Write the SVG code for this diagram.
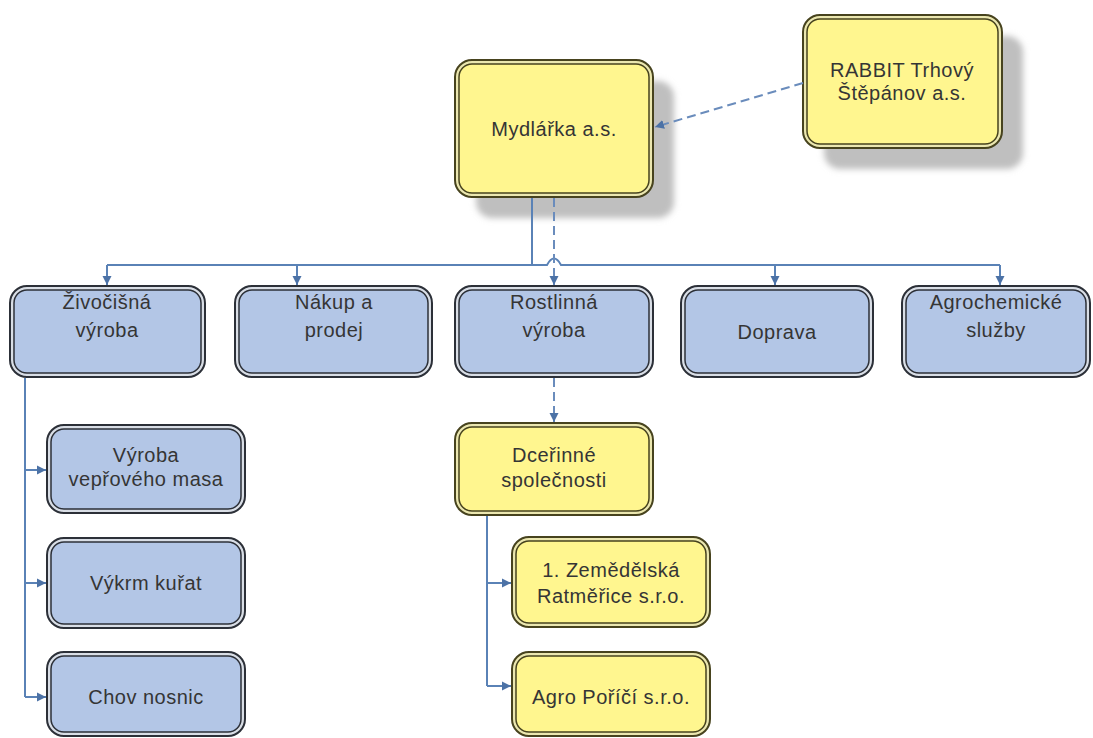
<svg xmlns="http://www.w3.org/2000/svg" width="1093" height="738" viewBox="0 0 1093 738">
<style>
.bo{fill:#d9dee6;stroke:#2c3038;stroke-width:2}
.bi{fill:#b3c6e6;stroke:#2c3038;stroke-width:1.5}
.yo{fill:#ebe7b0;stroke:#47431e;stroke-width:2}
.yi{fill:#fff68f;stroke:#47431e;stroke-width:1.5}
.sh{fill:#bfbfbf;filter:url(#blur)}
text{font-family:"Liberation Sans",Arial,sans-serif;font-size:20px;fill:#353535;text-anchor:middle;letter-spacing:0.5px}
.c{fill:none;stroke:#5a82b6;stroke-width:2}
.d{fill:none;stroke:#6a8cbc;stroke-width:2;stroke-dasharray:9 5}
</style>
<defs>
<filter id="blur" x="-10%" y="-10%" width="120%" height="120%"><feGaussianBlur stdDeviation="3"/></filter>
<marker id="ar" markerUnits="userSpaceOnUse" markerWidth="10" markerHeight="10" refX="9" refY="5" orient="auto"><path d="M0,0.5 L9,5 L0,9.5 z" fill="#4c72a6"/></marker>
</defs>
<rect width="1093" height="738" fill="#ffffff"/>
<g id="mydlarka">
<rect class="sh" x="476" y="81" width="198" height="137" rx="16"/>
<rect class="yo" x="455" y="60" width="198" height="137" rx="17"/>
<rect class="yi" x="459" y="64" width="190" height="129" rx="13"/>
<text x="554" y="136">Mydlářka a.s.</text>
</g>
<g id="rabbit">
<rect class="sh" x="824" y="36" width="199" height="133" rx="16"/>
<rect class="yo" x="803" y="15" width="199" height="133" rx="17"/>
<rect class="yi" x="807" y="19" width="191" height="125" rx="13"/>
<text x="902" y="77">RABBIT Trhový</text>
<text x="902" y="100">Štěpánov a.s.</text>
</g>
<g id="zivocisna">
<rect class="bo" x="10" y="286" width="195" height="91" rx="17"/>
<rect class="bi" x="14" y="290" width="187" height="83" rx="13"/>
<text x="107" y="309">Živočišná</text>
<text x="107" y="337">výroba</text>
</g>
<g id="nakup">
<rect class="bo" x="235" y="286" width="197" height="91" rx="17"/>
<rect class="bi" x="239" y="290" width="189" height="83" rx="13"/>
<text x="334" y="309">Nákup a</text>
<text x="334" y="337">prodej</text>
</g>
<g id="rostlinna">
<rect class="bo" x="455" y="286" width="198" height="91" rx="17"/>
<rect class="bi" x="459" y="290" width="190" height="83" rx="13"/>
<text x="554" y="309">Rostlinná</text>
<text x="554" y="337">výroba</text>
</g>
<g id="doprava">
<rect class="bo" x="681" y="286" width="192" height="91" rx="17"/>
<rect class="bi" x="685" y="290" width="184" height="83" rx="13"/>
<text x="777" y="339">Doprava</text>
</g>
<g id="agrochemicke">
<rect class="bo" x="902" y="286" width="188" height="91" rx="17"/>
<rect class="bi" x="906" y="290" width="180" height="83" rx="13"/>
<text x="996" y="309">Agrochemické</text>
<text x="996" y="337">služby</text>
</g>
<g id="vyroba-masa">
<rect class="bo" x="47" y="425" width="198" height="88" rx="17"/>
<rect class="bi" x="51" y="429" width="190" height="80" rx="13"/>
<text x="146" y="462">Výroba</text>
<text x="146" y="486">vepřového masa</text>
</g>
<g id="vykrm">
<rect class="bo" x="47" y="538" width="198" height="90" rx="17"/>
<rect class="bi" x="51" y="542" width="190" height="82" rx="13"/>
<text x="146" y="590">Výkrm kuřat</text>
</g>
<g id="chov">
<rect class="bo" x="47" y="652" width="198" height="84" rx="17"/>
<rect class="bi" x="51" y="656" width="190" height="76" rx="13"/>
<text x="146" y="704">Chov nosnic</text>
</g>
<g id="dcerinne">
<rect class="yo" x="455" y="423" width="198" height="92" rx="17"/>
<rect class="yi" x="459" y="427" width="190" height="84" rx="13"/>
<text x="554" y="462">Dceřinné</text>
<text x="554" y="487">společnosti</text>
</g>
<g id="zemedelska">
<rect class="yo" x="512" y="537" width="198" height="90" rx="17"/>
<rect class="yi" x="516" y="541" width="190" height="82" rx="13"/>
<text x="611" y="577">1. Zemědělská</text>
<text x="611" y="603">Ratměřice s.r.o.</text>
</g>
<g id="agro-porici">
<rect class="yo" x="512" y="652" width="198" height="84" rx="17"/>
<rect class="yi" x="516" y="656" width="190" height="76" rx="13"/>
<text x="611" y="704">Agro Poříčí s.r.o.</text>
</g>
<g id="connectors">
<path class="c" d="M532,198 V265"/>
<path class="c" d="M107,265 H547 Q554,252 561,265 H1000"/>
<path class="c" d="M107,265 V285" marker-end="url(#ar)"/>
<path class="c" d="M297,265 V285" marker-end="url(#ar)"/>
<path class="c" d="M775,265 V285" marker-end="url(#ar)"/>
<path class="c" d="M1000,265 V285" marker-end="url(#ar)"/>
<path class="d" d="M554,198 V285" marker-end="url(#ar)"/>
<path class="d" d="M803,83 L655,127" marker-end="url(#ar)"/>
<path class="d" d="M554,378 V422" marker-end="url(#ar)"/>
<path class="c" d="M25,378 V697"/>
<path class="c" d="M25,470 H46" marker-end="url(#ar)"/>
<path class="c" d="M25,583 H46" marker-end="url(#ar)"/>
<path class="c" d="M25,697 H46" marker-end="url(#ar)"/>
<path class="c" d="M487,516 V686"/>
<path class="c" d="M487,583 H511" marker-end="url(#ar)"/>
<path class="c" d="M487,686 H511" marker-end="url(#ar)"/>
</g>
</svg>
